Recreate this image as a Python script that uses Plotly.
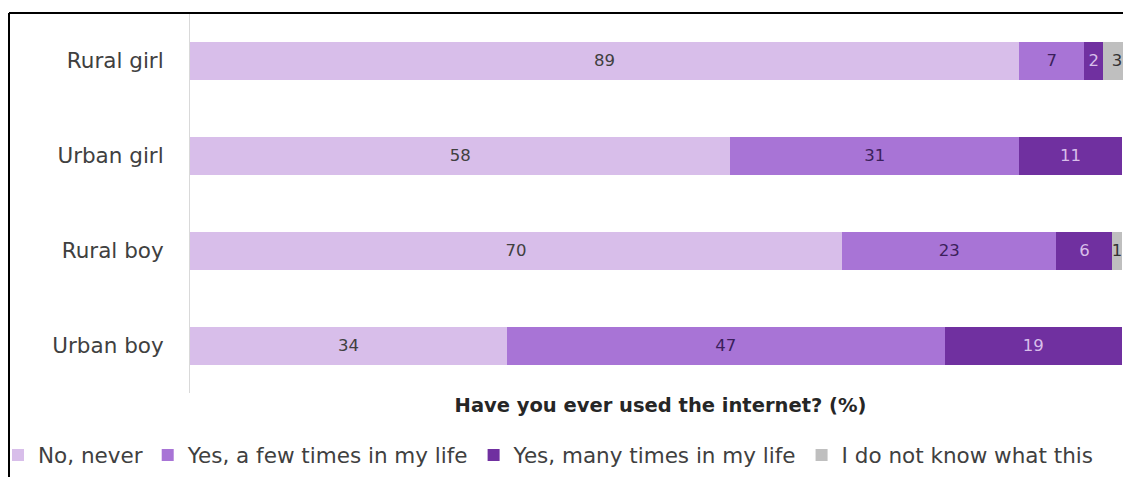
import plotly.graph_objects as go

categories = ["Rural girl", "Urban girl", "Rural boy", "Urban boy"]
series_names = ["No, never", "Yes, a few times in my life", "Yes, many times in my life", "I do not know what this"]
no_never = [89, 58, 70, 34]
few_times = [7, 31, 23, 47]
many_times = [2, 11, 6, 19]
dont_know = [3, None, 1, None]

colors = ["#D8BEEA", "#A874D6", "#7030A0", "#BFBFBF"]
text_colors = ["#404040", "#3B1F5C", "#D8BEEA", "#333333"]
values = [no_never, few_times, many_times, dont_know]

FONT = "DejaVu Sans"
W, H = 1123, 469          # page body has an 8px margin
L, T, B = 182, 5, 84
PW = W - L

fig = go.Figure()
for name, vals, col, tcol in zip(series_names, values, colors, text_colors):
    fig.add_trace(go.Bar(
        y=categories, x=vals, name=name, orientation="h",
        marker=dict(color=col, line=dict(width=0)),
        text=[("" if v is None else str(v)) for v in vals],
        textposition="inside", insidetextanchor="middle",
        textfont=dict(family=FONT, size=16.5, color=tcol),
        cliponaxis=False,
    ))

fig.update_layout(
    barmode="stack",
    bargap=0.6,
    width=W, height=H,
    margin=dict(l=L, r=0, t=T, b=B, autoexpand=False),
    paper_bgcolor="white", plot_bgcolor="white",
    font=dict(family=FONT, color="#404040"),
    uniformtext=dict(minsize=16.5, mode="show"),
    xaxis=dict(range=[0, 101], showgrid=False, zeroline=False, showticklabels=False,
               showline=False, ticks="",
               title=dict(text="<b>Have you ever used the internet? (%)</b>",
                          font=dict(family=FONT, size=19.5, color="#262626"), standoff=5)),
    yaxis=dict(categoryorder="array", categoryarray=categories[::-1],
               showgrid=False, zeroline=False, showline=True, linecolor="#D9D9D9", linewidth=1,
               ticks="", ticklabelstandoff=21,
               tickfont=dict(family=FONT, size=21.5, color="#404040")),
    legend=dict(orientation="h", x=(-10 - L) / PW, xanchor="left", y=-0.163, yanchor="middle",
                font=dict(family=FONT, size=21.5, color="#404040"),
                bgcolor="rgba(0,0,0,0)",
                traceorder="normal", itemwidth=30),
    shapes=[
        dict(type="line", xref="paper", yref="paper", x0=(1 - L) / PW, x1=1.0, y0=1, y1=1,
             line=dict(color="black", width=2)),
        dict(type="line", xref="paper", yref="paper", x0=(1 - L) / PW, x1=(1 - L) / PW,
             y0=1, y1=-B / (H - T - B) - 0.05,
             line=dict(color="black", width=2)),
    ],
)

fig.write_html("out.html")
